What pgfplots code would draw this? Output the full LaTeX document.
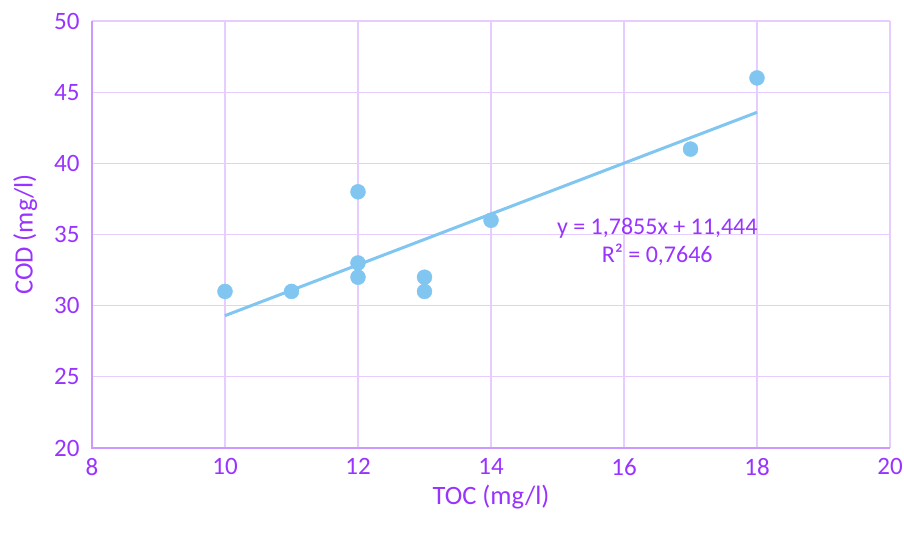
\documentclass[border=0pt]{standalone}
\usepackage{pgfplots}
\pgfplotsset{compat=1.18}
\usepackage{fontspec}
\setmainfont{Carlito}
\definecolor{txt}{RGB}{153,51,255}
\definecolor{gridc}{RGB}{230,204,255}
\definecolor{axc}{RGB}{204,153,255}
\definecolor{pt}{RGB}{128,198,240}
\begin{document}
\begin{tikzpicture}
\useasboundingbox (-92pt,-85pt) rectangle (812pt,448pt);
\begin{axis}[
  at={(0,0)}, anchor=south west,
  scale only axis, width=798pt, height=427pt,
  xmin=8, xmax=20, ymin=20, ymax=50,
  xtick={8,10,...,20}, ytick={20,25,...,50},
  grid=major,
  major grid style={gridc, line width=1.2pt},
  axis line style={draw=none},
  axis x line*=bottom, axis y line*=left,
  tick style={draw=none},
  /pgf/number format/assume math mode=true,
  ticklabel style={font=\fontsize{25}{28}\selectfont, text=txt},
  xticklabel style={yshift=-7pt},
  yticklabel style={xshift=-9pt},
  xlabel={TOC (mg/l)}, ylabel={COD (mg/l)},
  label style={font=\fontsize{26.5}{30}\selectfont, text=txt},
  xlabel style={yshift=-2pt},
  ylabel style={yshift=10pt},
  clip=false,
]
\addplot[pt, line width=3pt] coordinates {(10,29.299) (18,43.583)};
\addplot[only marks, mark=*, mark size=7.5pt, mark options={fill=pt, draw=pt}] coordinates {
(10,31) (11,31) (12,38) (12,33) (12,32) (13,32) (13,31) (14,36) (17,41) (18,46)};
\draw[axc, line width=1.5pt] (axis cs:8,50) -- (axis cs:8,20) -- (axis cs:20,20);
\node[font=\fontsize{24}{28}\selectfont, text=txt, align=center] at (axis cs:16.5,34.5) {y = 1,7855x + 11,444\\R² = 0,7646};
\end{axis}
\end{tikzpicture}
\end{document}
